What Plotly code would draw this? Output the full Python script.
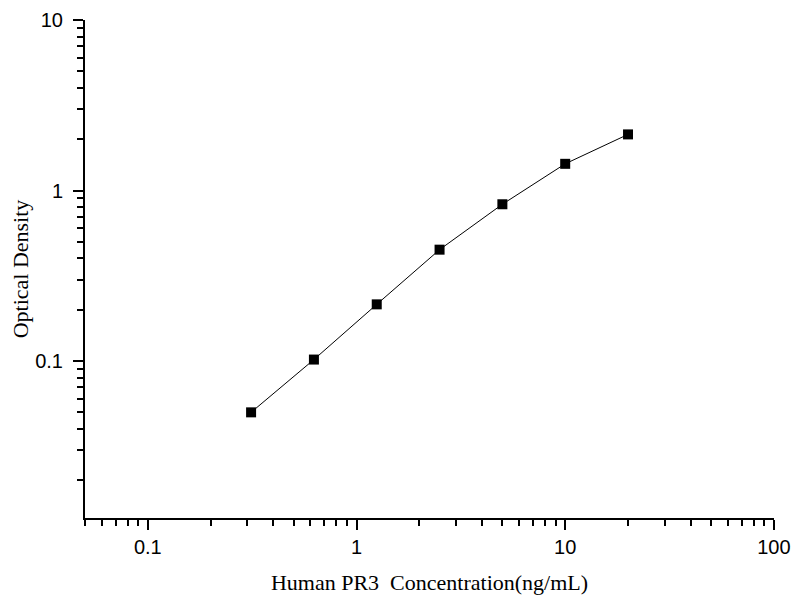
"""Standard curve for Human PR3 on log-log axes"""
import plotly.graph_objects as go

# Concentrations of the standards (ng/mL)
concentration = [0.3125, 0.625, 1.25, 2.5, 5, 10, 20]

# Measured optical density of each standard
optical_density = [0.050, 0.102, 0.215, 0.450, 0.831, 1.435, 2.135]

tick_font = dict(family="Liberation Sans, Arial", size=20, color="black")
title_font = dict(family="Liberation Serif, Times New Roman", size=22, color="black")

fig = go.Figure()

fig.add_trace(go.Scatter(
    x=concentration,
    y=optical_density,
    mode="lines+markers",
    line=dict(color="black", width=1),
    marker=dict(symbol="square", size=10, color="black"),
    cliponaxis=False,
    showlegend=False))

# Log axes with outside major and minor ticks, no box
axis_common = dict(
    type="log",
    dtick=1,
    showgrid=False,
    zeroline=False,
    showline=True,
    linecolor="black",
    linewidth=2,
    ticks="outside",
    ticklen=10,
    tickwidth=2,
    tickcolor="black",
    tickfont=tick_font,
    ticklabeloverflow="allow",
    automargin=False,
    minor=dict(ticks="outside", ticklen=6, tickwidth=2, tickcolor="black",
               dtick="D1", showgrid=False),
)

fig.update_xaxes(
    axis_common,
    range=[-1.30103, 2.0005],
    title=dict(text="Human PR3 \u00a0Concentration(ng/mL)", font=title_font, standoff=18),
)
fig.update_yaxes(
    axis_common,
    range=[-1.9208, 1.0005],
    ticklabelstandoff=6,
    title=dict(text="Optical Density", font=title_font, standoff=10),
)

# page body adds ~8px offset, margins compensate for it
fig.update_layout(
    width=800,
    height=600,
    margin=dict(l=77, r=34, t=12, b=90),
    plot_bgcolor="white",
    paper_bgcolor="white",
)

fig.write_html("out.html")
